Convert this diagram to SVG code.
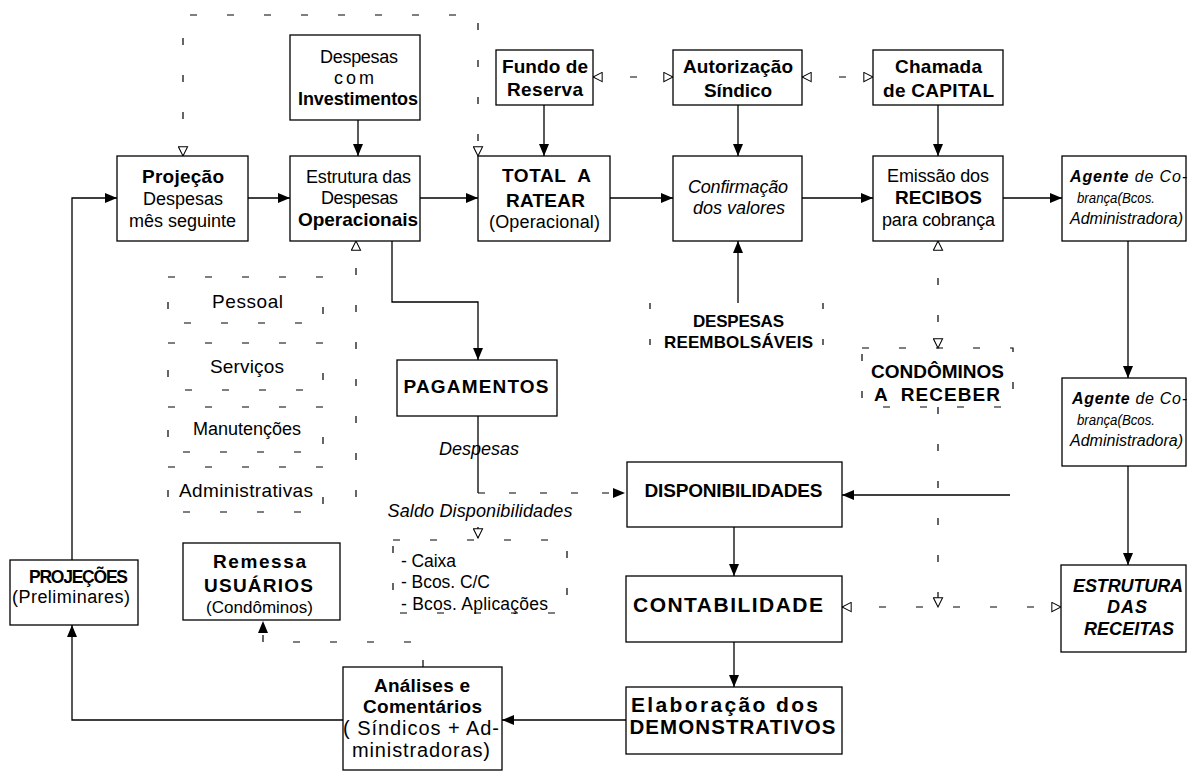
<svg xmlns="http://www.w3.org/2000/svg" width="1188" height="772" viewBox="0 0 1188 772">
<defs>
<marker id="fa" viewBox="0 0 12 10" refX="12" refY="5" markerWidth="12" markerHeight="10" markerUnits="userSpaceOnUse" orient="auto"><path d="M0,0 L12,5 L0,10 Z" fill="#000"/></marker>
<marker id="oa" viewBox="0 0 12 12" refX="11" refY="6" markerWidth="11" markerHeight="11" markerUnits="userSpaceOnUse" orient="auto-start-reverse"><path d="M1,1 L11,6 L1,11 Z" fill="#fff" stroke="#000" stroke-width="1.1"/></marker>
</defs>
<style>
.b{fill:#fff;stroke:#000;stroke-width:1.3}
.d{fill:none;stroke:#000;stroke-width:1.2;stroke-dasharray:7 30}
.c{fill:none;stroke:#000;stroke-width:1.3}
.cd{fill:none;stroke:#000;stroke-width:1.2;stroke-dasharray:7 24}
text{font-family:"Liberation Sans",Arial,sans-serif;font-size:18px;fill:#000;text-anchor:middle}
.bo{font-weight:bold;font-size:19px}
.it{font-style:italic}
.st{text-anchor:start}
</style>
<rect width="1188" height="772" fill="#fff"/>
<g id="connectors">
<path class="c" d="M72,560 V198 H117" marker-end="url(#fa)"/>
<path class="c" d="M248,198 H290" marker-end="url(#fa)"/>
<path class="c" d="M420,198 H478" marker-end="url(#fa)"/>
<path class="c" d="M610,198 H673" marker-end="url(#fa)"/>
<path class="c" d="M802,198 H873" marker-end="url(#fa)"/>
<path class="c" d="M1003,198 H1062" marker-end="url(#fa)"/>
<path class="c" d="M358,120 V156" marker-end="url(#fa)"/>
<path class="c" d="M544,105 V156" marker-end="url(#fa)"/>
<path class="c" d="M738,105 V156" marker-end="url(#fa)"/>
<path class="c" d="M938,105 V156" marker-end="url(#fa)"/>
<path class="c" d="M1128,241 V378" marker-end="url(#fa)"/>
<path class="c" d="M1128,466 V565" marker-end="url(#fa)"/>
<path class="c" d="M392,241 V302 H478 V360" marker-end="url(#fa)"/>
<path class="c" d="M478,416 V493"/>
<path class="cd" d="M478,493 H625" marker-end="url(#fa)"/>
<path class="c" d="M738,303 V241" marker-end="url(#fa)"/>
<path class="c" d="M1010,495 H842" marker-end="url(#fa)"/>
<path class="c" d="M734,527 V576" marker-end="url(#fa)"/>
<path class="c" d="M734,642 V687" marker-end="url(#fa)"/>
<path class="c" d="M626,720 H502" marker-end="url(#fa)"/>
<path class="c" d="M343,720 H72 V625" marker-end="url(#fa)"/>
<path class="d" d="M183,156 V15 H478 V156" marker-start="url(#oa)" marker-end="url(#oa)"/>
<path class="d" d="M593,77 H673" marker-start="url(#oa)" marker-end="url(#oa)"/>
<path class="d" d="M802,77 H873" marker-start="url(#oa)" marker-end="url(#oa)"/>
<path class="d" d="M938,241 V348" marker-start="url(#oa)" marker-end="url(#oa)"/>
<path class="d" d="M938,407 V607" marker-end="url(#oa)"/>
<path class="d" d="M842,607 H1061" marker-start="url(#oa)" marker-end="url(#oa)"/>
<path class="d" d="M356,497 V241" marker-end="url(#oa)"/>
<path class="c" d="M478,527 V538" marker-end="url(#oa)"/>
<path class="d" d="M423,667 V642 H263 V621" marker-end="url(#fa)"/>
</g>
<g id="investimentos"><rect class="b" x="290" y="35" width="130" height="85"/>
<text x="359" y="63" textLength="78">Despesas</text><text x="354" y="84" textLength="40">com</text><text class="bo" x="358" y="105" style="font-size:18px" textLength="120">Investimentos</text></g>
<g id="projecao"><rect class="b" x="117" y="156" width="131" height="85"/>
<text class="bo" x="183" y="183" textLength="82">Projeção</text><text x="183" y="205" textLength="80">Despesas</text><text x="182.5" y="227" textLength="107">mês seguinte</text></g>
<g id="estrutura"><rect class="b" x="290" y="156" width="130" height="85"/>
<text x="358.5" y="183" textLength="105">Estrutura das</text><text x="359.5" y="204" textLength="77">Despesas</text><text class="bo" x="358" y="226" textLength="120">Operacionais</text></g>
<g id="fundo"><rect class="b" x="496" y="50" width="97" height="55"/>
<text class="bo" x="545" y="73" textLength="86">Fundo de</text><text class="bo" x="545" y="96" textLength="76">Reserva</text></g>
<g id="autorizacao"><rect class="b" x="673" y="50" width="129" height="55"/>
<text class="bo" x="738" y="73" textLength="110">Autorização</text><text class="bo" x="738" y="97" textLength="68">Síndico</text></g>
<g id="chamada"><rect class="b" x="873" y="50" width="130" height="55"/>
<text class="bo" x="938.5" y="73" textLength="87">Chamada</text><text class="bo" x="938.5" y="97" textLength="111">de CAPITAL</text></g>
<g id="total"><rect class="b" x="478" y="156" width="132" height="85"/>
<text class="bo" x="546.5" y="182" textLength="89" style="white-space:pre">TOTAL  A</text><text class="bo" x="545.5" y="207" textLength="79">RATEAR</text><text x="544.5" y="228" textLength="111">(Operacional)</text></g>
<g id="confirmacao"><rect class="b" x="673" y="156" width="129" height="85"/>
<text class="it" x="738" y="193" textLength="100">Confirmação</text><text class="it" x="739" y="214" textLength="92">dos valores</text></g>
<g id="emissao"><rect class="b" x="873" y="156" width="130" height="85"/>
<text x="938" y="182" textLength="102">Emissão dos</text><text class="bo" x="938.5" y="204" textLength="87">RECIBOS</text><text x="938.5" y="226" textLength="113">para cobrança</text></g>
<g id="agente1"><rect class="b" x="1062" y="156" width="124" height="85"/>
<text class="it st" x="1070" y="182" style="font-size:16px" textLength="117"><tspan class="bo" style="font-size:16px">Agente</tspan> de Co-</text><text class="it st" x="1077" y="203" style="font-size:15px" textLength="78" lengthAdjust="spacingAndGlyphs">brança(Bcos.</text><text class="it st" x="1070" y="224" style="font-size:16px" textLength="113">Administradora)</text></g>
<g id="agente2"><rect class="b" x="1062" y="378" width="124" height="88"/>
<text class="it st" x="1072" y="404" style="font-size:16px" textLength="115"><tspan class="bo" style="font-size:16px">Agente</tspan> de Co-</text><text class="it st" x="1077" y="425" style="font-size:15px" textLength="78" lengthAdjust="spacingAndGlyphs">brança(Bcos.</text><text class="it st" x="1070" y="446" style="font-size:16px" textLength="113">Administradora)</text></g>
<g id="reembolsaveis"><path class="d" d="M650,303 V362 M823,303 V362" style="stroke-dasharray:6 30"/>
<text class="bo" x="738.5" y="327" style="font-size:17px" textLength="91">DESPESAS</text><text class="bo" x="738.5" y="348" style="font-size:17px" textLength="149">REEMBOLSÁVEIS</text></g>
<g id="pagamentos"><rect class="b" x="397" y="360" width="160" height="56"/>
<text class="bo" x="476" y="393" textLength="145">PAGAMENTOS</text></g>
<g id="label-despesas"><text class="it" x="479" y="455" textLength="80">Despesas</text></g>
<g id="label-saldo"><text class="it" x="480" y="517" textLength="185">Saldo Disponibilidades</text></g>
<g id="disponibilidades"><rect class="b" x="627" y="462" width="215" height="65"/>
<text class="bo" x="733.5" y="497" textLength="178">DISPONIBILIDADES</text></g>
<g id="condominos"><rect class="d" x="862" y="348" width="151" height="59"/>
<text class="bo" x="937.5" y="378" textLength="133">CONDÔMINOS</text><text class="bo" x="937" y="401" textLength="126" style="white-space:pre">A  RECEBER</text></g>
<g id="pessoal"><rect class="d" x="168" y="277" width="155" height="46"/><text x="247.5" y="308" style="font-size:19px" textLength="71">Pessoal</text></g>
<g id="servicos"><rect class="d" x="168" y="343" width="155" height="47"/><text x="247" y="373" style="font-size:19px" textLength="74">Serviços</text></g>
<g id="manutencoes"><rect class="d" x="168" y="407" width="155" height="45"/><text x="247" y="435" textLength="108">Manutenções</text></g>
<g id="administrativas"><rect class="d" x="168" y="467" width="155" height="45"/><text x="246" y="497" style="font-size:19px" textLength="134">Administrativas</text></g>
<g id="caixa"><rect class="d" x="393" y="540" width="174" height="73"/>
<text class="st" x="401" y="567" style="font-size:17.5px" textLength="55">- Caixa</text><text class="st" x="401" y="588" style="font-size:17.5px" textLength="89">- Bcos. C/C</text><text class="st" x="401" y="610" style="font-size:17.5px" textLength="147">- Bcos. Aplicações</text></g>
<g id="projecoes"><rect class="b" x="10" y="560" width="128" height="65"/>
<text class="bo" x="78.5" y="583" style="font-size:17.5px" textLength="99">PROJEÇÕES</text><text x="71" y="603" textLength="118">(Preliminares)</text></g>
<g id="remessa"><rect class="b" x="183" y="543" width="157" height="77"/>
<text class="bo" x="259.5" y="568" textLength="93">Remessa</text><text class="bo" x="258.5" y="592" textLength="109">USUÁRIOS</text><text x="259.5" y="613" style="font-size:17px" textLength="107">(Condôminos)</text></g>
<g id="contabilidade"><rect class="b" x="626" y="576" width="216" height="66"/>
<text class="bo" x="728" y="612" style="font-size:21px" textLength="190">CONTABILIDADE</text></g>
<g id="elaboracao"><rect class="b" x="626" y="687" width="216" height="67"/>
<text class="bo" x="724.5" y="712" style="font-size:21px" textLength="187">Elaboração dos</text><text class="bo" x="732.5" y="734" style="font-size:20.5px" textLength="206">DEMONSTRATIVOS</text></g>
<g id="analises"><rect class="b" x="343" y="667" width="159" height="103"/>
<text class="bo" x="422" y="692" textLength="96">Análises e</text><text class="bo" x="422.5" y="713" textLength="119">Comentários</text><text x="421" y="735" style="font-size:20px" textLength="156">( Síndicos + Ad-</text><text x="421" y="757" style="font-size:20px" textLength="138">ministradoras)</text></g>
<g id="receitas"><rect class="b" x="1061" y="565" width="125" height="87"/>
<text class="bo it" x="1128" y="592" style="font-size:18px" textLength="110">ESTRUTURA</text><text class="bo it" x="1127" y="613" style="font-size:18px" textLength="40">DAS</text><text class="bo it" x="1129" y="635" style="font-size:18px" textLength="90">RECEITAS</text></g>
</svg>
